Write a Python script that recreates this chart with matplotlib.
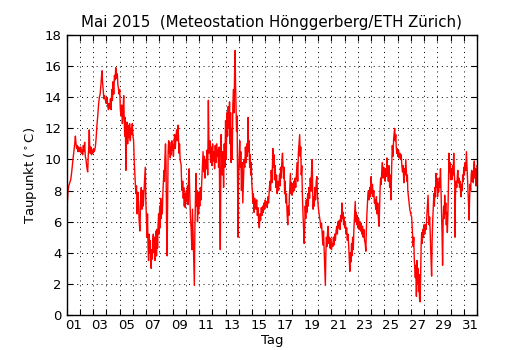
import matplotlib
matplotlib.use("Agg")
import matplotlib.pyplot as plt
import numpy as np

# Time in days since 1 May 2015 00:00, dew point in deg C
day = [
0.00,0.05,0.10,0.15,0.22,0.30,0.36,0.42,0.48,0.55,0.60,0.65,0.70,0.75,0.80,0.85,0.90,0.95,1.00,
1.05,1.10,1.15,1.20,1.25,1.30,1.35,1.40,1.45,1.50,1.55,1.58,1.62,1.66,1.70,1.73,1.77,1.82,1.87,1.92,1.97,
2.02,2.07,2.12,2.17,2.22,2.28,2.34,2.40,2.46,2.52,2.58,2.63,2.67,2.70,2.75,2.80,2.86,2.92,2.98,
3.04,3.10,3.15,3.20,3.25,3.30,3.35,3.40,3.45,3.50,3.55,3.60,3.65,3.70,3.74,3.78,3.82,3.86,3.90,3.95,
4.00,4.05,4.10,4.15,4.20,4.25,4.30,4.34,4.38,4.42,4.47,4.50,4.55,4.60,4.65,4.70,4.75,4.80,4.85,4.90,4.95,
5.00,5.05,5.10,5.17,5.22,5.27,5.32,5.37,5.42,5.47,5.53,5.58,5.63,5.68,5.73,5.78,5.83,5.88,5.93,5.97,
6.02,6.06,6.10,6.14,6.18,6.22,6.26,6.30,6.34,6.38,6.42,6.46,6.50,6.54,6.58,6.62,6.66,6.70,6.74,6.78,6.82,6.86,6.90,6.94,6.98,
7.02,7.06,7.10,7.14,7.18,7.22,7.26,7.30,7.34,7.38,7.42,7.46,7.50,7.54,7.58,7.62,7.66,7.70,7.74,7.78,7.82,7.86,7.90,7.94,7.98,
8.02,8.06,8.10,8.15,8.20,8.25,8.30,8.35,8.40,8.44,8.48,8.52,8.56,8.60,8.64,8.68,8.72,8.76,8.80,8.84,8.88,8.92,8.96,
9.00,9.04,9.08,9.12,9.16,9.20,9.25,9.30,9.35,9.40,9.45,9.50,9.55,9.60,9.64,9.68,9.72,9.76,9.80,9.84,9.88,9.92,9.96,
10.00,10.05,10.10,10.15,10.20,10.25,10.30,10.35,10.40,10.45,10.50,10.55,10.60,10.65,10.70,10.73,10.77,10.82,10.87,10.92,10.97,
11.02,11.07,11.12,11.17,11.22,11.27,11.32,11.37,11.42,11.47,11.52,11.56,11.60,11.63,11.66,11.70,11.75,11.80,11.85,11.90,11.95,
12.00,12.05,12.10,12.15,12.20,12.25,12.30,12.34,12.38,12.42,12.46,12.50,12.55,12.60,12.64,12.68,12.72,12.75,12.79,12.83,12.87,12.91,12.94,12.97,
13.02,13.07,13.11,13.15,13.20,13.25,13.30,13.35,13.40,13.45,13.50,13.55,13.60,13.65,13.70,13.74,13.78,13.82,13.86,13.90,13.94,13.98,
14.02,14.06,14.10,14.15,14.20,14.25,14.30,14.35,14.40,14.45,14.50,14.55,14.60,14.65,14.70,14.75,14.80,14.85,14.90,14.95,
15.00,15.05,15.10,15.15,15.20,15.25,15.30,15.35,15.40,15.45,15.50,15.55,15.58,15.62,15.66,15.70,15.75,15.80,15.85,15.90,15.95,
16.00,16.04,16.08,16.12,16.16,16.20,16.25,16.30,16.34,16.38,16.42,16.46,16.50,16.55,16.60,16.65,16.70,16.74,16.78,16.82,16.86,16.90,16.94,16.98,
17.02,17.06,17.10,17.15,17.20,17.25,17.30,17.35,17.40,17.45,17.50,17.55,17.60,17.64,17.68,17.72,17.76,17.80,17.85,17.90,17.94,17.98,
18.02,18.06,18.10,18.15,18.20,18.25,18.30,18.35,18.40,18.45,18.50,18.55,18.58,18.62,18.66,18.70,18.75,18.80,18.85,18.90,18.95,
19.00,19.05,19.10,19.15,19.20,19.25,19.30,19.35,19.40,19.45,19.50,19.54,19.58,19.62,19.66,19.70,19.75,19.80,19.85,19.90,19.95,
20.00,20.05,20.10,20.15,20.20,20.25,20.30,20.35,20.40,20.45,20.50,20.55,20.60,20.65,20.70,20.75,20.80,20.84,20.88,20.92,20.96,
21.00,21.05,21.10,21.15,21.20,21.25,21.30,21.35,21.39,21.43,21.47,21.52,21.56,21.60,21.65,21.70,21.75,21.80,21.84,21.88,21.92,21.96,
22.00,22.05,22.10,22.15,22.20,22.25,22.30,22.35,22.40,22.45,22.50,22.55,22.60,22.64,22.68,22.72,22.76,22.80,22.85,22.90,22.95,
23.00,23.05,23.10,23.15,23.20,23.25,23.30,23.35,23.40,23.45,23.50,23.55,23.60,23.64,23.68,23.72,23.76,23.80,23.85,23.90,23.95,
24.00,24.05,24.10,24.15,24.20,24.25,24.30,24.35,24.40,24.45,24.50,24.55,24.60,24.65,24.70,24.75,24.78,24.82,24.86,24.90,24.93,24.97,
25.02,25.07,25.12,25.17,25.22,25.27,25.32,25.37,25.42,25.47,25.52,25.57,25.62,25.66,25.70,25.74,25.77,25.82,25.87,25.92,25.97,
26.02,26.06,26.10,26.14,26.18,26.22,26.26,26.30,26.34,26.38,26.42,26.46,26.50,26.54,26.58,26.62,26.66,26.70,26.74,26.78,26.82,26.86,26.90,26.95,
27.00,27.05,27.10,27.15,27.20,27.25,27.30,27.34,27.38,27.42,27.46,27.50,27.54,27.57,27.61,27.65,27.70,27.74,27.78,27.82,27.86,27.90,27.94,27.98,
28.02,28.06,28.10,28.15,28.20,28.24,28.28,28.32,28.36,28.40,28.44,28.48,28.52,28.56,28.60,28.64,28.68,28.72,28.76,28.80,28.84,28.88,28.92,28.96,
29.00,29.05,29.10,29.15,29.20,29.24,29.28,29.32,29.34,29.37,29.42,29.47,29.52,29.55,29.60,29.64,29.68,29.72,29.76,29.80,29.84,29.88,29.92,29.96,
30.00,30.05,30.10,30.15,30.20,30.24,30.28,30.32,30.36,30.40,30.44,30.48,30.52,30.56,30.60,30.64,30.68,30.72,30.76,30.80,30.84,30.88,30.92,30.96,31.00,
]
taupunkt = [
6.7,7.4,8.0,8.3,8.5,8.7,9.1,9.6,10.1,10.6,11.0,11.5,11.0,10.7,10.9,10.5,10.8,10.6,10.5,
10.8,10.4,10.6,10.3,10.9,10.5,11.1,10.2,10.0,9.6,9.3,9.2,10.2,10.8,11.9,10.9,10.4,10.8,10.3,10.6,10.4,
10.7,10.5,10.6,10.9,11.4,12.2,12.8,13.5,14.0,14.2,14.8,15.4,15.7,15.0,14.5,13.9,14.1,13.8,13.6,
14.0,13.4,13.2,13.6,13.3,13.9,13.2,14.5,13.8,15.0,14.2,15.4,15.1,15.9,15.7,15.2,15.5,14.8,14.6,14.2,
14.5,13.2,12.8,13.5,12.3,13.0,14.1,12.6,11.5,12.7,9.3,11.6,12.4,11.0,12.2,11.4,12.3,11.2,12.0,11.6,12.3,
11.5,11.2,9.8,8.6,7.8,8.3,6.5,7.9,7.2,6.0,5.4,7.5,8.2,6.8,8.0,7.0,7.8,8.6,9.5,7.5,
6.2,5.0,6.5,4.5,3.5,5.2,4.0,4.8,3.5,3.0,4.2,3.6,4.8,5.2,4.0,5.0,3.5,4.6,5.4,3.8,5.5,4.3,5.8,6.5,5.2,
7.0,5.6,7.5,6.2,7.2,6.5,7.8,8.5,9.3,8.6,10.2,11.0,9.8,6.0,3.8,7.5,10.5,11.2,10.4,11.1,10.1,10.8,10.3,11.2,10.6,
10.9,10.2,11.0,11.6,10.7,11.4,11.9,11.2,12.2,11.5,10.4,11.0,10.1,9.8,9.7,8.4,8.0,8.6,7.5,8.2,7.0,7.8,6.9,
7.6,8.0,7.3,8.3,7.1,8.8,9.4,7.5,6.2,5.5,4.2,6.8,5.0,3.2,1.9,5.5,7.2,9.1,7.0,8.0,6.0,7.5,6.5,
7.9,7.0,8.2,7.4,8.6,9.5,10.5,9.2,10.2,8.8,10.0,9.4,10.6,9.0,13.8,11.5,10.4,11.2,9.8,10.8,9.6,
11.0,9.9,10.5,9.4,10.9,9.8,11.0,10.2,10.6,9.5,10.8,7.0,4.2,8.5,11.6,10.0,9.0,10.5,8.2,11.0,9.5,
12.5,10.0,13.0,11.5,13.4,12.0,13.7,11.0,13.0,9.8,12.0,10.0,13.5,14.5,13.0,15.5,17.0,15.0,13.5,11.8,12.8,8.5,5.0,8.5,
10.0,11.2,9.5,10.5,8.0,9.8,7.2,8.5,10.0,9.5,10.8,9.8,11.0,10.2,12.7,10.5,11.2,9.5,10.3,9.0,9.8,8.5,
8.0,7.2,7.8,6.6,7.5,7.0,6.8,7.4,6.4,6.9,6.0,5.6,6.5,6.1,6.9,6.4,7.0,6.6,7.2,6.8,
7.4,7.0,7.3,6.9,7.6,7.2,8.0,8.6,8.0,9.3,8.5,10.0,10.7,9.5,10.3,8.7,9.6,8.2,9.0,7.8,8.6,
8.0,8.5,9.0,8.3,9.5,8.8,9.8,10.4,9.6,8.8,9.5,7.8,8.6,7.2,7.8,6.5,5.8,7.0,6.4,7.6,8.3,9.1,7.8,8.5,
7.7,8.4,7.9,8.6,8.0,8.8,8.2,9.0,9.8,8.6,10.4,11.0,11.6,10.2,10.8,9.0,9.6,7.8,6.5,5.5,4.6,5.6,
7.0,6.2,7.4,6.6,7.8,7.0,8.2,7.5,8.8,8.0,9.4,10.0,8.0,6.8,7.6,7.0,8.2,7.4,8.6,8.9,7.6,
7.0,6.6,6.3,6.0,5.6,5.9,5.2,4.5,5.4,4.2,3.0,1.9,4.0,5.0,4.4,5.2,5.7,4.6,5.0,4.3,4.9,
4.2,4.6,4.4,5.0,4.5,5.2,4.8,5.4,5.7,5.2,6.0,5.6,6.1,5.5,6.4,6.0,7.2,6.2,6.6,5.8,6.3,
5.6,6.0,5.2,5.6,4.8,5.2,4.5,3.6,2.8,4.0,3.4,4.6,3.8,5.0,4.2,5.6,6.4,7.3,6.0,6.6,5.8,6.4,
5.6,6.2,5.5,6.0,5.4,5.9,5.2,5.7,5.0,5.5,4.8,4.6,4.1,5.5,6.5,7.2,7.8,8.0,7.4,8.2,7.6,
8.9,7.8,8.4,7.6,8.0,7.2,7.4,6.8,7.6,6.5,7.2,6.2,5.7,7.0,8.2,8.8,8.4,9.2,9.8,8.8,9.5,
9.1,8.6,9.4,8.9,10.1,9.2,8.6,9.6,8.2,9.0,7.4,9.5,10.9,10.2,11.3,11.8,12.0,11.2,11.6,10.8,10.4,10.7,
10.2,10.6,10.1,10.4,10.0,10.3,9.6,9.2,9.6,8.5,9.4,9.0,10.0,9.3,8.6,9.0,8.0,7.6,7.2,6.8,6.6,
6.4,6.3,5.6,5.0,4.4,5.0,3.6,3.0,2.4,3.2,1.2,3.5,2.0,3.0,1.5,2.6,1.0,0.85,2.5,4.5,5.3,4.6,5.5,5.0,
5.8,5.2,5.8,5.5,6.2,6.8,7.7,6.5,5.8,6.3,5.4,4.2,3.3,2.5,4.8,6.0,7.1,7.8,7.0,8.2,7.6,9.1,8.2,8.8,
7.6,8.5,7.9,8.8,8.2,9.4,8.0,6.5,5.2,3.2,6.0,7.0,6.2,7.7,6.5,7.2,5.8,6.6,5.3,6.5,8.2,10.4,9.2,9.8,
8.7,9.4,8.7,9.6,9.0,10.4,9.2,8.5,5.0,7.7,8.6,8.2,9.0,9.3,8.5,8.8,8.2,8.6,7.9,7.6,8.4,8.0,9.0,8.6,
9.5,9.0,9.8,9.3,10.5,9.6,8.8,8.0,7.2,6.1,7.5,8.4,8.0,9.0,9.3,8.6,9.2,8.5,9.6,9.9,8.8,9.4,8.3,8.5,9.6,
]

title = "Mai 2015  (Meteostation Hönggerberg/ETH Zürich)"
day_labels = ["%02d" % d for d in range(1, 32, 2)]

fig = plt.figure(figsize=(5.3, 3.5), dpi=100, facecolor="white")
ax = fig.add_axes([0.126, 0.1, 0.774, 0.8])
ax.plot(day, taupunkt, color="red", linewidth=1.0)

ax.set_xlim(0, 31)
ax.set_ylim(0, 18)
ax.set_xticks(np.arange(0, 32, 1))
ax.set_xticklabels([])
ax.set_xticks(np.arange(0.5, 31, 2), minor=True)
ax.set_xticklabels(day_labels, minor=True, fontsize=9.5)
ax.set_yticks(np.arange(0, 19, 2))
ax.set_yticklabels([str(v) for v in range(0, 19, 2)], fontsize=9.5)
ax.tick_params(axis="x", which="minor", length=0, pad=3)
ax.tick_params(axis="both", which="major", direction="in", length=4, width=0.8,
               top=True, right=True)
ax.grid(True, which="major", color="black", linestyle=(0, (1, 4)), linewidth=0.7)
for s in ax.spines.values():
    s.set_linewidth(1.0)
ax.set_title(title, fontsize=10.8)
ax.set_xlabel("Tag", fontsize=9.5, labelpad=1)
ax.set_ylabel(r"Taupunkt ($^\circ$C)", fontsize=9.5)

fig.savefig("out.png", dpi=100, facecolor="white")
